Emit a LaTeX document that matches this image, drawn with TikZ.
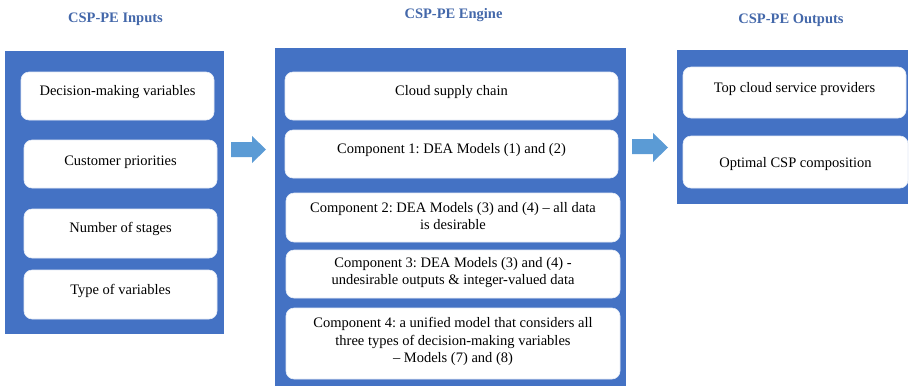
\documentclass[tikz,border=0pt]{standalone}
\usepackage{fontspec}
\setmainfont{Liberation Serif}
\frenchspacing
\definecolor{panelblue}{RGB}{68,114,196}
\definecolor{titleblue}{RGB}{68,104,170}
\definecolor{arrowblue}{RGB}{91,155,213}
\tikzset{
  panel/.style={fill=panelblue, draw=none},
  item/.style={fill=white, draw=white!85!panelblue, line width=0.6pt, rounded corners=8pt},
  heading/.style={text=titleblue, font=\fontsize{14.5}{17}\selectfont\bfseries, inner sep=0pt},
  itemtext/.style={text=black, font=\fontsize{14.5}{17.5}\selectfont, align=center, inner sep=0pt},
  flow/.style={fill=arrowblue, draw=none}
}
\begin{document}
\begin{tikzpicture}[x=1pt,y=-1pt]
\useasboundingbox (0,0) rectangle (910,389);
% Labels
\node[heading] (inhead) at (115.5,19) {CSP-PE Inputs};
\node[heading] (enghead) at (453.5,15.5) {CSP-PE Engine};
\node[heading] (outhead) at (791,20.5) {CSP-PE Outputs};
% Panels
\fill[panel] (5,51) rectangle (224,334);
\fill[panel] (275,48) rectangle (626,386);
\fill[panel] (677,50) rectangle (908,204);
% Inputs
\draw[item] (21,72) rectangle (214,120);
\draw[item] (24,140) rectangle (217,188);
\draw[item] (24,209) rectangle (217,258);
\draw[item] (24,270) rectangle (217,319);
\node[itemtext] (dmv) at (117.5,92) {Decision-making variables};
\node[itemtext] (prio) at (120.5,162) {Customer priorities};
\node[itemtext] (stages) at (120.5,229) {Number of stages};
\node[itemtext] (types) at (120.5,291) {Type of variables};
% Engine
\draw[item] (285,72) rectangle (618,120);
\draw[item] (285,130) rectangle (618,178);
\draw[item] (286,193) rectangle (620,242);
\draw[item] (286,250) rectangle (620,298);
\draw[item] (286,308) rectangle (620,379);
\node[itemtext] (chain) at (451.5,92) {Cloud supply chain};
\node[itemtext] (comp1) at (451.5,150) {Component 1: DEA Models (1) and (2)};
\node[itemtext] (comp2) at (453,216) {Component 2: DEA Models (3) and (4) -- all data\\is desirable};
\node[itemtext] (comp3) at (453,272.5) {Component 3: DEA Models (3) and (4) -\\undesirable outputs \& integer-valued data};
\node[itemtext] (comp4) at (453,341.5) {Component 4: a unified model that considers all\\three types of decision-making variables\\-- Models (7) and (8)};
% Outputs
\draw[item] (683,67) rectangle (906,118);
\draw[item] (683,136) rectangle (908,188);
\node[itemtext] (top) at (794.5,89) {Top cloud service providers};
\node[itemtext] (optimal) at (795.5,164) {Optimal CSP composition};
% Arrows
\fill[flow] (231,142) -- (252,142) -- (252,136) -- (266,149.5) -- (252,163) -- (252,157) -- (231,157) -- cycle;
\fill[flow] (632,139) -- (653,139) -- (653,133) -- (668,147.5) -- (653,162) -- (653,154) -- (632,154) -- cycle;
\end{tikzpicture}
\end{document}
